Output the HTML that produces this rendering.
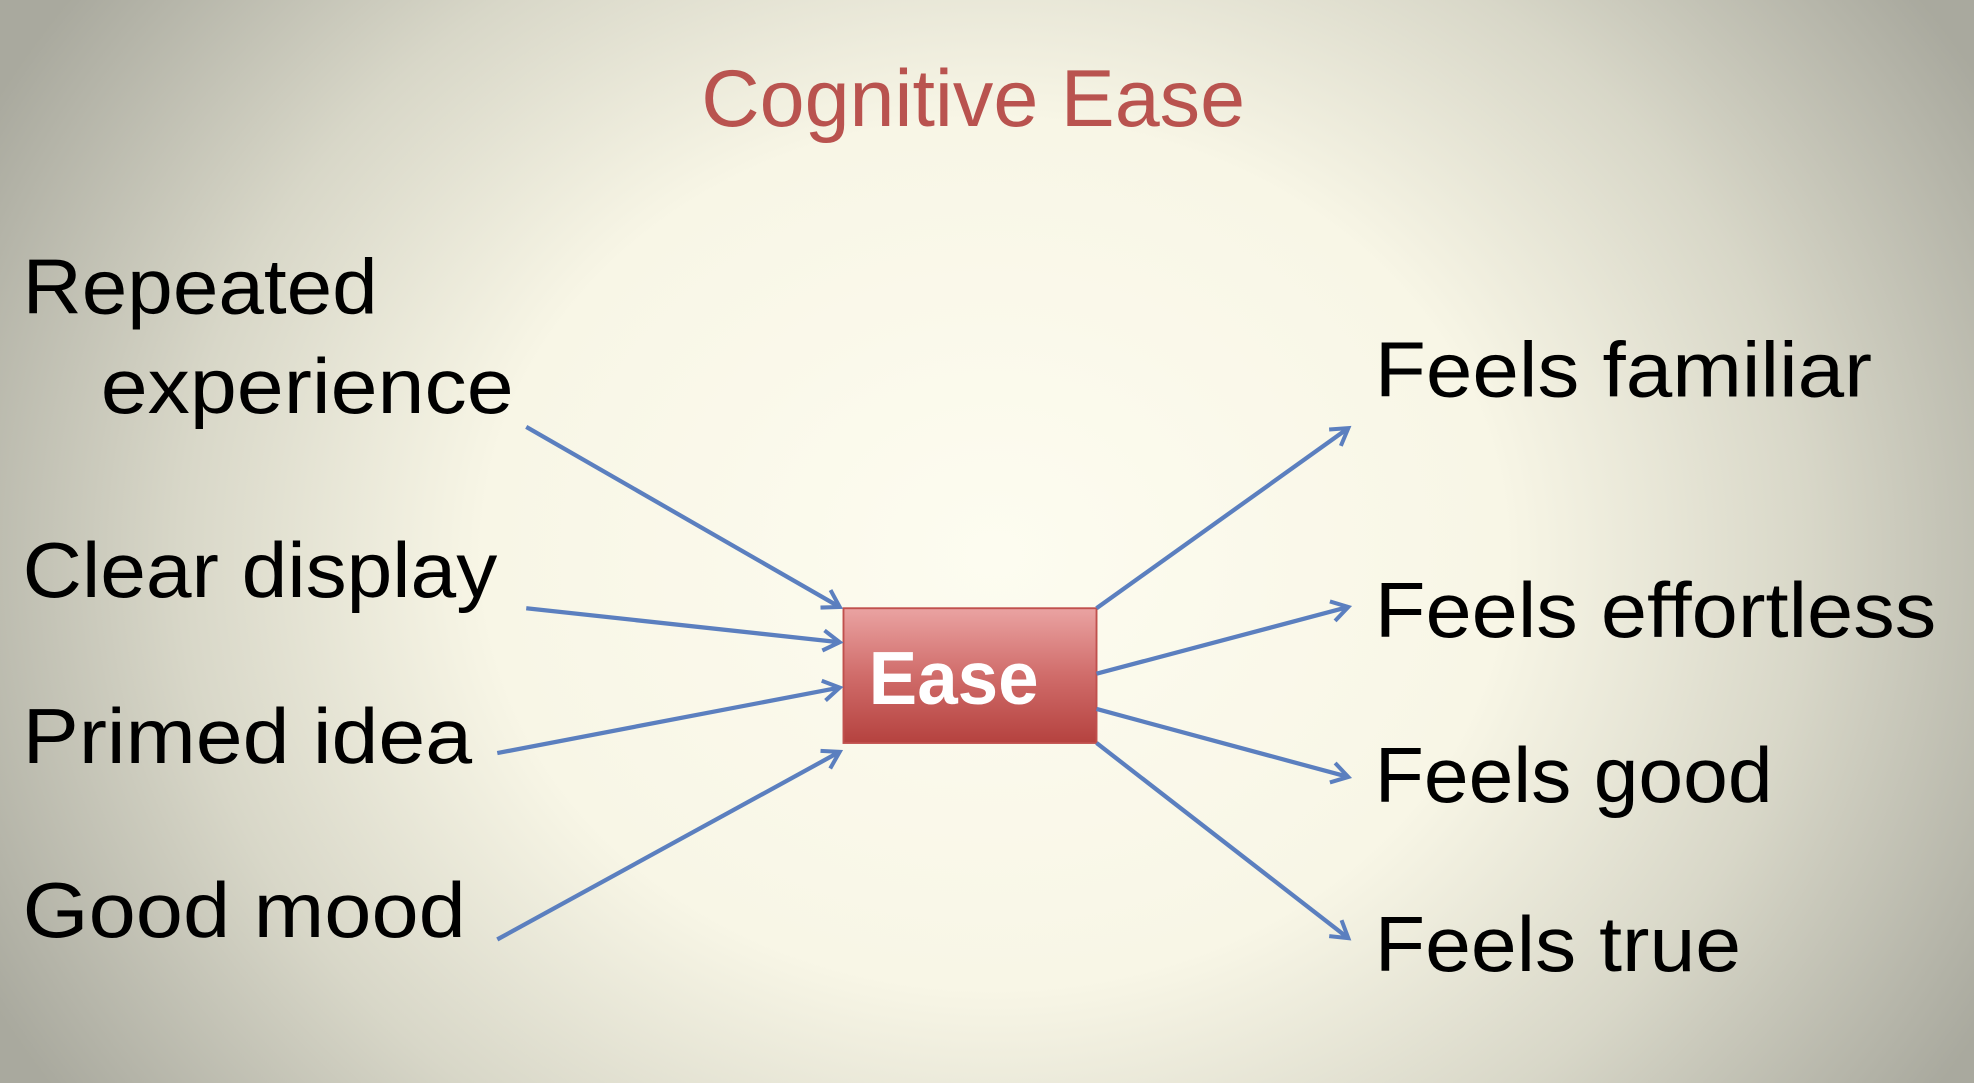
<!DOCTYPE html>
<html><head><meta charset="utf-8"><style>
html,body{margin:0;padding:0;width:1974px;height:1083px;overflow:hidden}
svg{display:block}
text{font-family:"Liberation Sans",sans-serif}
</style></head><body>
<svg width="1974" height="1083" viewBox="0 0 1568 860" preserveAspectRatio="none">
<defs>
<radialGradient id="bg" cx="790" cy="440" r="900" gradientUnits="userSpaceOnUse" gradientTransform="translate(790 440) scale(1 0.85) translate(-790 -440)">
<stop offset="0" stop-color="#fdfcf0"/>
<stop offset="0.45" stop-color="#f8f6e6"/>
<stop offset="0.72" stop-color="#d8d7c8"/>
<stop offset="1" stop-color="#a9a99e"/>
</radialGradient>
<linearGradient id="box" x1="0" y1="0" x2="0" y2="1">
<stop offset="0" stop-color="#eaa3a2"/>
<stop offset="0.5" stop-color="#d06c6a"/>
<stop offset="1" stop-color="#b5423f"/>
</linearGradient>
<marker id="ah" markerWidth="20" markerHeight="20" refX="15" refY="10" orient="auto" markerUnits="userSpaceOnUse">
<path d="M2,2 L15,10 L2,18" fill="none" stroke="#5b7fbf" stroke-width="3.2"/>
</marker>
</defs>
<rect width="1568" height="860" fill="url(#bg)"/>
<text x="773" y="100" font-size="64" fill="#b9534f" text-anchor="middle" textLength="432" lengthAdjust="spacingAndGlyphs">Cognitive Ease</text>
<g font-size="62" fill="#000">
<text x="18" y="249" textLength="282" lengthAdjust="spacingAndGlyphs">Repeated</text>
<text x="80" y="328" textLength="328" lengthAdjust="spacingAndGlyphs">experience</text>
<text x="18" y="474" textLength="377" lengthAdjust="spacingAndGlyphs">Clear display</text>
<text x="18" y="606" textLength="357" lengthAdjust="spacingAndGlyphs">Primed idea</text>
<text x="18" y="744" textLength="352" lengthAdjust="spacingAndGlyphs">Good mood</text>
<text x="1092" y="315" textLength="395" lengthAdjust="spacingAndGlyphs">Feels familiar</text>
<text x="1092" y="506" textLength="446" lengthAdjust="spacingAndGlyphs">Feels effortless</text>
<text x="1092" y="637" textLength="316" lengthAdjust="spacingAndGlyphs">Feels good</text>
<text x="1092" y="771" textLength="291" lengthAdjust="spacingAndGlyphs">Feels true</text>
</g>
<rect x="670" y="483" width="201" height="107" fill="url(#box)" stroke="#c0504d" stroke-width="1.5"/>
<text x="690" y="559" font-size="60" font-weight="bold" fill="#fff" textLength="135" lengthAdjust="spacingAndGlyphs">Ease</text>
<g stroke="#5b7fbf" stroke-width="3.4" fill="none" marker-end="url(#ah)">
<line x1="418" y1="339" x2="667" y2="482"/>
<line x1="418" y1="483" x2="667" y2="510"/>
<line x1="395" y1="598" x2="667" y2="546"/>
<line x1="395" y1="746" x2="667" y2="597"/>
<line x1="871" y1="483" x2="1071" y2="340"/>
<line x1="871" y1="535" x2="1071" y2="482"/>
<line x1="871" y1="563" x2="1071" y2="617"/>
<line x1="871" y1="590" x2="1071" y2="745"/>
</g>
</svg>
</body></html>
